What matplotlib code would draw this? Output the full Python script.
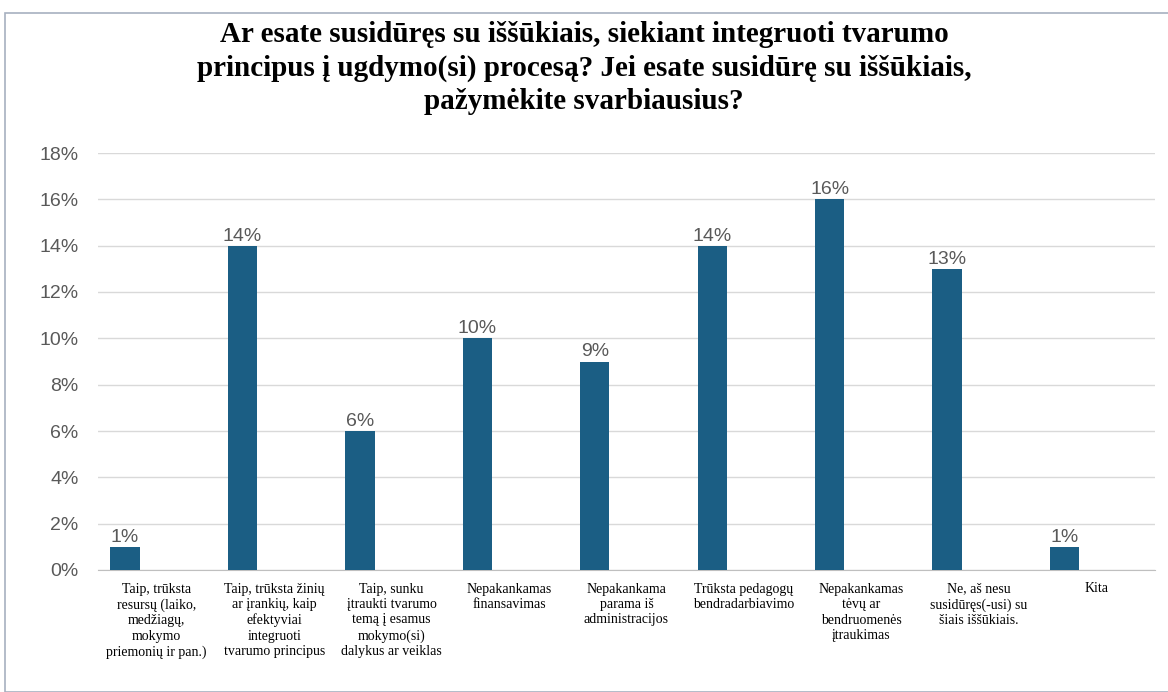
import numpy as np
import matplotlib
matplotlib.use("Agg")
import matplotlib.pyplot as plt
from matplotlib.patches import Rectangle
from matplotlib.ticker import FuncFormatter

title = ("Ar esate susidūręs su iššūkiais, siekiant integruoti tvarumo\n"
         "principus į ugdymo(si) procesą? Jei esate susidūrę su iššūkiais,\n"
         "pažymėkite svarbiausius?")

categories = [
    "Taip, trūksta\nresursų (laiko,\nmedžiagų,\nmokymo\npriemonių ir pan.)",
    "Taip, trūksta žinių\nar įrankių, kaip\nefektyviai\nintegruoti\ntvarumo principus",
    "Taip, sunku\nįtraukti tvarumo\ntemą į esamus\nmokymo(si)\ndalykus ar veiklas",
    "Nepakankamas\nfinansavimas",
    "Nepakankama\nparama iš\nadministracijos",
    "Trūksta pedagogų\nbendradarbiavimo",
    "Nepakankamas\ntėvų ar\nbendruomenės\nįtraukimas",
    "Ne, aš nesu\nsusidūręs(-usi) su\nšiais iššūkiais.",
    "Kita",
]
values = [1, 14, 6, 10, 9, 14, 16, 13, 1]

bar_color = "#1b5e84"
grey = "#595959"

fig = plt.figure(figsize=(11.68, 6.92), dpi=100)
fig.patches.append(Rectangle((5 / 1168, 0), 1.0, 1 - 13 / 692, transform=fig.transFigure,
                             fill=False, edgecolor="#a7b0c0", linewidth=1.2))

ax = fig.add_axes([98 / 1168, 1 - 570 / 692, (1155 - 98) / 1168, (570 - 153) / 692])

x = np.arange(len(categories))
bars = ax.bar(x - 0.27, values, width=0.25, color=bar_color, zorder=3)
for b, v in zip(bars, values):
    ax.text(b.get_x() + b.get_width() / 2, v + 0.05, f"{v}%", ha="center", va="bottom",
            fontsize=14, color=grey, family="Liberation Sans")

ax.set_xlim(-0.5, len(categories) - 0.5)
ax.set_ylim(0, 18)
ax.set_yticks(np.arange(0, 19, 2))
ax.yaxis.set_major_formatter(FuncFormatter(lambda v, p: f"{v:.0f}%"))
ax.grid(axis="y", color="#d9d9d9", linewidth=1, zorder=0)
for s in ["left", "right", "top"]:
    ax.spines[s].set_visible(False)
ax.spines["bottom"].set_color("#bfbfbf")
ax.tick_params(axis="y", length=0, labelsize=14, labelcolor=grey, pad=14)
ax.tick_params(axis="x", length=0, pad=9)
for lab in ax.get_yticklabels():
    lab.set_family("Liberation Sans")
ax.set_xticks(x)
ax.set_xticklabels(categories, fontsize=10, family="Liberation Serif", linespacing=1.25,
                   va="top")

fig.text(0.5, 1 - 68 / 692, title, ha="center", va="center", fontsize=21,
         fontweight="bold", family="Liberation Serif", linespacing=1.3)

fig.savefig("out.png", dpi=100)
